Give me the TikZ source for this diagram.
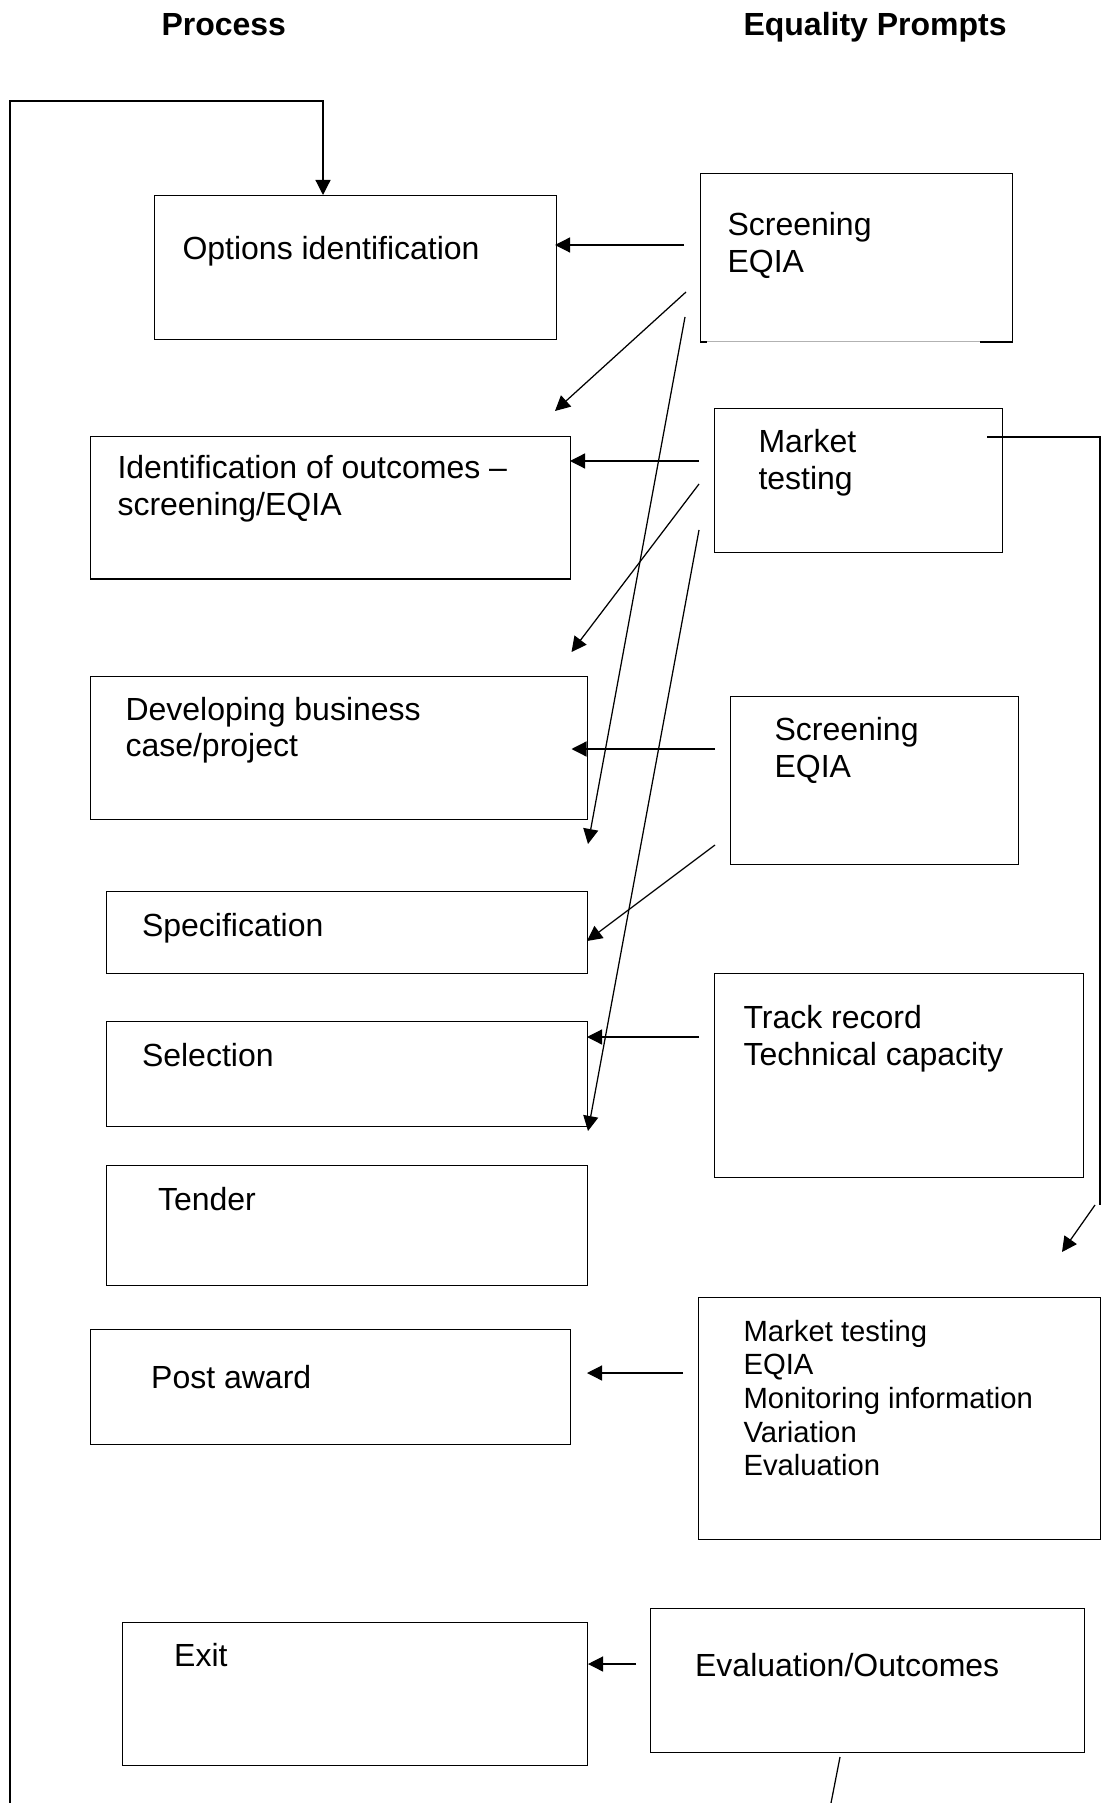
\documentclass[tikz,border=0pt]{standalone}
\usepackage{fontspec}
\setmainfont{Liberation Sans}
\usetikzlibrary{arrows.meta}
\begin{document}
\begin{tikzpicture}[x=0.4pt,y=-0.4pt,
  box/.style={draw,line width=0.55pt,inner sep=0pt,anchor=north west},
  lbl/.style={anchor=base west,inner sep=0pt,font=\fontsize{12.8pt}{14.7pt}\selectfont},
  slbl/.style={anchor=base west,inner sep=0pt,font=\fontsize{11.7pt}{13.5pt}\selectfont},
  ttl/.style={anchor=base west,inner sep=0pt,font=\fontsize{12.8pt}{14.7pt}\selectfont\bfseries},
  arr/.style={line width=0.5pt,-{Triangle[length=6pt,width=6pt]}},
  ln/.style={line width=0.5pt}]
\useasboundingbox (0,0) rectangle (1104,1803);
% titles
\node[ttl] (tproc) at (161,36) {Process};
\node[ttl] (tequal) at (743,36) {Equality Prompts};
% process boxes
\node[box,minimum width=402*0.4pt,minimum height=144*0.4pt] (opt) at (154,195) {};
\node[lbl] (optT) at (182,260) {Options identification};
\node[box,minimum width=480*0.4pt,minimum height=142.5*0.4pt] (ido) at (90,436) {};
\node[lbl] (idoT1) at (117,479) {Identification of outcomes –};
\node[lbl] (idoT2) at (117,516) {screening/EQIA};
\node[box,minimum width=496.5*0.4pt,minimum height=143*0.4pt] (dev) at (90,676) {};
\node[lbl] (devT1) at (125,720) {Developing business};
\node[lbl] (devT2) at (125,756) {case/project};
\node[box,minimum width=480.5*0.4pt,minimum height=82*0.4pt] (spec) at (106,891) {};
\node[lbl] (specT) at (141.5,936) {Specification};
\node[box,minimum width=480.5*0.4pt,minimum height=105*0.4pt] (sel) at (106,1021) {};
\node[lbl] (selT) at (141.5,1066) {Selection};
\node[box,minimum width=480.5*0.4pt,minimum height=120*0.4pt] (ten) at (106,1165) {};
\node[lbl] (tenT) at (157.5,1210) {Tender};
\node[box,minimum width=480*0.4pt,minimum height=115*0.4pt] (post) at (90,1329) {};
\node[lbl] (postT) at (150.7,1388) {Post award};
\node[box,minimum width=465*0.4pt,minimum height=143.5*0.4pt] (exit) at (122,1621.5) {};
\node[lbl] (exitT) at (173.7,1666) {Exit};
% prompt boxes
\node[box,minimum width=312*0.4pt,minimum height=168.5*0.4pt] (scr1) at (700,173) {};
\draw[white,line width=0.9pt] (707,341.5) -- (980,341.5);
\draw[gray!60,line width=0.3pt] (707,341.5) -- (980,341.5);
\node[lbl] (scr1T1) at (727,236) {Screening};
\node[lbl] (scr1T2) at (727,273) {EQIA};
\node[box,minimum width=288*0.4pt,minimum height=144*0.4pt] (mkt) at (714,408) {};
\node[lbl] (mktT1) at (758,453) {Market};
\node[lbl] (mktT2) at (758,490) {testing};
\node[box,minimum width=288*0.4pt,minimum height=168*0.4pt] (scr2) at (730,696) {};
\node[lbl] (scr2T1) at (774,740) {Screening};
\node[lbl] (scr2T2) at (774,777) {EQIA};
\node[box,minimum width=369*0.4pt,minimum height=203.5*0.4pt] (trk) at (714,973) {};
\node[lbl] (trkT1) at (743,1028) {Track record};
\node[lbl] (trkT2) at (743,1065) {Technical capacity};
\node[box,minimum width=402*0.4pt,minimum height=242*0.4pt] (mkt2) at (698,1297) {};
\node[slbl] (m2a) at (743,1341) {Market testing};
\node[slbl] (m2b) at (743,1374.7) {EQIA};
\node[slbl] (m2c) at (743,1408.4) {Monitoring information};
\node[slbl] (m2d) at (743,1442.1) {Variation};
\node[slbl] (m2e) at (743,1475.8) {Evaluation};
\node[box,minimum width=434*0.4pt,minimum height=144*0.4pt] (eval) at (650,1608) {};
\node[lbl] (evalT) at (694.6,1676) {Evaluation/Outcomes};
% connector end points
\coordinate (a1s) at (684,245);   \coordinate (a1e) at (555,245);
\coordinate (a2s) at (686,292);   \coordinate (a2e) at (555,411);
\coordinate (a3s) at (685,317);   \coordinate (a3e) at (588,844);
\coordinate (b1s) at (699,461);   \coordinate (b1e) at (570,461);
\coordinate (b2s) at (699,484);   \coordinate (b2e) at (571.5,652);
\coordinate (b3s) at (699,530);   \coordinate (b3e) at (588,1131);
\coordinate (c1s) at (715,749);   \coordinate (c1e) at (571.5,749);
\coordinate (c2s) at (715,845);   \coordinate (c2e) at (587,941);
\coordinate (d1s) at (699,1037);  \coordinate (d1e) at (587,1037);
\coordinate (e1s) at (683,1373);  \coordinate (e1e) at (587,1373);
\coordinate (f1s) at (636,1664);  \coordinate (f1e) at (588,1664);
\coordinate (lpB) at (10,1803);   \coordinate (lpT) at (10,101);
\coordinate (lpR) at (323,101);   \coordinate (lpE) at (323,195);
\coordinate (rS) at (987,437);    \coordinate (rC) at (1100,437);
\coordinate (rE) at (1100,1205);
\coordinate (rAs) at (1095,1205); \coordinate (rAe) at (1062,1252);
\coordinate (gS) at (840,1757);   \coordinate (gE) at (831,1803);
% connectors
\draw[arr] (a1s) -- (a1e);
\draw[arr] (a2s) -- (a2e);
\draw[arr] (a3s) -- (a3e);
\draw[arr] (b1s) -- (b1e);
\draw[arr] (b2s) -- (b2e);
\draw[arr] (b3s) -- (b3e);
\draw[arr] (c1s) -- (c1e);
\draw[arr] (c2s) -- (c2e);
\draw[arr] (d1s) -- (d1e);
\draw[arr] (e1s) -- (e1e);
\draw[arr] (f1s) -- (f1e);
\draw[arr] (lpB) -- (lpT) -- (lpR) -- (lpE);
\draw[ln] (rS) -- (rC) -- (rE);
\draw[arr] (rAs) -- (rAe);
\draw[ln] (gS) -- (gE);
\end{tikzpicture}
\end{document}
